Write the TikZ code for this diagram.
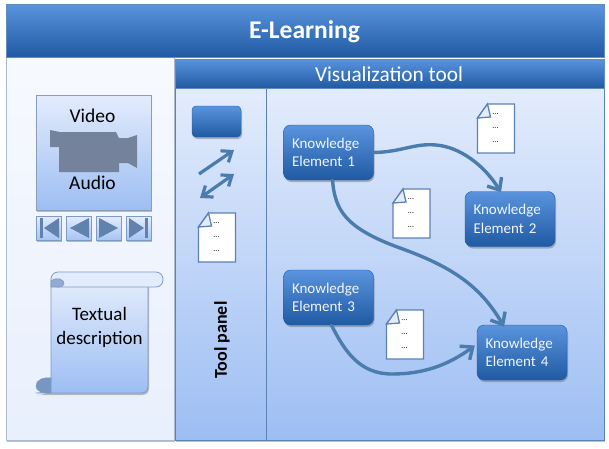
\documentclass[tikz,border=0pt]{standalone}
\usepackage{fontspec}
\setmainfont{Carlito}
\usetikzlibrary{arrows.meta,shadows}
\definecolor{hdtop}{HTML}{5A94DE}
\definecolor{hdbot}{HTML}{1F5AA3}
\definecolor{edgeb}{HTML}{5C82B4}
\definecolor{edgeg}{HTML}{8A9DB8}
\definecolor{pantop}{HTML}{E3ECFC}
\definecolor{panbot}{HTML}{9DBEF3}
\definecolor{flow}{HTML}{4A7DAE}
\definecolor{cam}{HTML}{75829B}
\tikzset{
  x=1pt,y=-1pt,
  softshadow/.style={drop shadow={shadow xshift=1pt,shadow yshift=-2pt,opacity=.35,fill=black!70}},
  header/.style={top color=hdtop,bottom color=hdbot,draw=hdbot!70!white,line width=.6pt},
  panel/.style={top color=pantop,bottom color=panbot,draw=edgeb,line width=.8pt},
  leftpanel/.style={top color=white!70!pantop,bottom color=pantop!80!white,draw=edgeg!70,line width=.8pt},
  kebox/.style={rectangle,rounded corners=7pt,top color=hdtop,bottom color=hdbot,draw=hdbot,line width=.4pt,
    minimum width=90pt,minimum height=55pt,text=white!92!hdtop,font=\fontsize{15}{18.5}\selectfont,
    text width=73pt,align=left,inner sep=0pt,softshadow},
  flowline/.style={draw=flow,line width=3.4pt,line cap=round,-{Straight Barb[length=10pt,width=17pt,line width=3.4pt]}},
  toolarrow/.style={draw=flow,line width=3.2pt,-{Straight Barb[length=9pt,width=14pt,line width=3.2pt]}},
  navbtn/.style={top color=pantop,bottom color=panbot!90!white,draw=edgeb!80,line width=.8pt},
  navmark/.style={fill=edgeb!85!gray},
  doc/.pic={
    \path[fill=white,draw=edgeb,line width=1.3pt] (10,1) -- (37,1) -- (37,50) -- (0,50) -- (0,15) -- cycle;
    \path[fill=pantop,draw=edgeb,line width=1.3pt] (10,1) -- (13,14) -- (0,15) -- cycle;
    \node[font=\fontsize{8}{8}\selectfont,inner sep=0pt] at (18,11) {...};
    \node[font=\fontsize{8}{8}\selectfont,inner sep=0pt] at (18,25) {...};
    \node[font=\fontsize{8}{8}\selectfont,inner sep=0pt] at (18,39) {...};
  }
}
\begin{document}
\begin{tikzpicture}
\useasboundingbox[fill=white] (0,0) rectangle (609,448);
% panels
\path[leftpanel,softshadow] (6,57) rectangle (174,440);
\path[panel,softshadow] (175,88) rectangle (266,440);
\path[panel,softshadow] (266,88) rectangle (604,440);
\path[header] (175,59) rectangle (604,88);
\path[header] (6,4) rectangle (604,57);
\node[text=white,font=\fontsize{25.5}{28}\selectfont\bfseries] (title) at (304.5,32) {E-Learning};
\node[text=white,font=\fontsize{21.3}{24}\selectfont] (vis) at (389,74) {Visualization tool};
% video box
\path[panel,softshadow,draw=edgeg] (36,95) rectangle (151,210);
\path[fill=cam] (50,130) -- (60,132) -- (116,132) -- (119,138) -- (128,138) -- (137,135) -- (137,168) -- (128,163) -- (119,163) -- (119,172) -- (59,172) -- (59,147) -- (50,147) -- cycle;
\node[font=\fontsize{19.5}{22}\selectfont] (video) at (92.5,116) {Video};
\node[font=\fontsize{19.5}{22}\selectfont] (audio) at (92.5,183) {Audio};
% navigation buttons
\path[navbtn,softshadow] (36,216) rectangle (61,240);
\path[navbtn,softshadow] (66,216) rectangle (91,240);
\path[navbtn,softshadow] (96,216) rectangle (121,240);
\path[navbtn,softshadow] (126,216) rectangle (151,240);
\path[navmark] (40,218) rectangle (43,238);
\path[navmark] (59,218) -- (59,238) -- (44,228) -- cycle;
\path[navmark] (89,218) -- (89,238) -- (70,228) -- cycle;
\path[navmark] (99,218) -- (99,238) -- (118,228) -- cycle;
\path[navmark] (129,218) -- (129,238) -- (144,228) -- cycle;
\path[navmark] (145,218) rectangle (148,238);
% scroll
\path[panel,softshadow,draw=edgeb!80] (51,280) -- (148,280) -- (148,386) .. controls (148,391) and (145,393) .. (141,393) -- (36,393) .. controls (51,393) and (51,385) .. (51,378) -- cycle;
\path[top color=pantop,bottom color=pantop,draw=edgeb!80,line width=.8pt,rounded corners=7pt] (51,287) -- (51,272) -- (163,272) -- (163,287) -- cycle;
\path[fill=edgeb!60!pantop,draw=edgeb!80,line width=.6pt] (51,287) -- (51,283) .. controls (51,280) and (54,278) .. (60,279) .. controls (66,281) and (65,287) .. (59,287) -- cycle;
\path[fill=edgeb!80!pantop,draw=edgeb!80,line width=.6pt] (51,378) .. controls (43,377) and (36,380) .. (36,386) .. controls (36,391) and (43,394) .. (51,393) -- cycle;
\node[align=center,font=\fontsize{19}{24}\selectfont,inner sep=0pt] (textual) at (99.5,327) {Textual\\description};
% tool panel
\path[top color=hdtop,bottom color=hdbot,draw=hdbot,line width=.4pt,rounded corners=4pt,softshadow] (192,106) rectangle (241,137);
\coordinate (ta1) at (199,174); \coordinate (tb1) at (234,150);
\coordinate (ta2) at (200,198); \coordinate (tb2) at (234,174);
\draw[toolarrow] (ta1) -- (tb1);
\draw[draw=flow,line width=3.2pt,{Straight Barb[length=9pt,width=14pt,line width=3.2pt]}-{Straight Barb[length=9pt,width=14pt,line width=3.2pt]}] (ta2) -- (tb2);
\pic at (198.5,212) {doc};
\node[rotate=90,font=\fontsize{18}{20}\selectfont\bfseries] (toolp) at (222,340) {Tool panel};
% knowledge elements
\node[kebox] (ke1) at (328.5,152.5) {Knowledge\\Element 1};
\node[kebox] (ke2) at (510,219) {Knowledge\\Element 2};
\node[kebox] (ke3) at (328.5,297.5) {Knowledge\\Element 3};
\node[kebox] (ke4) at (522,352.5) {Knowledge\\Element 4};
\pic at (477.5,103) {doc};
\pic at (393,188) {doc};
\pic at (386.5,309) {doc};
% connectors
\coordinate (m1) at (436,145);
\coordinate (m2) at (400,248);
\coordinate (m3) at (392,374);
\draw[flowline] (ke1.east) .. controls (402,152) and (414,143) .. (m1) .. controls (460,147) and (484,165) .. ([xshift=-9pt,yshift=-1pt]ke2.north);
\draw[flowline] ([xshift=4pt]ke1.south) .. controls (335,210) and (345,228) .. (m2) .. controls (450,266) and (480,285) .. ([xshift=-18pt,yshift=-2pt]ke4.north);
\draw[flowline] ([xshift=3pt]ke3.south) .. controls (345,352) and (360,374) .. (m3) .. controls (422,374) and (447,366) .. ([yshift=7pt,xshift=-2pt]ke4.west);
\end{tikzpicture}
\end{document}
